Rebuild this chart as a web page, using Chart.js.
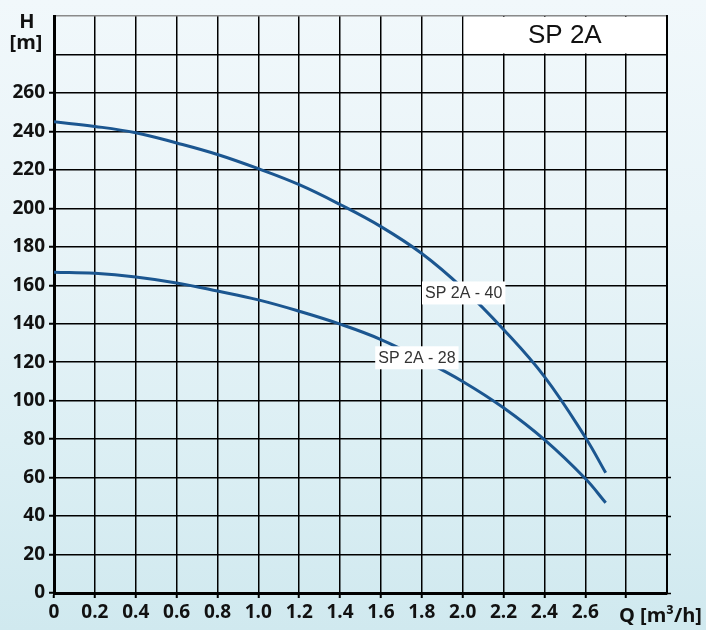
<!DOCTYPE html>
<html>
<head>
<meta charset="utf-8">
<script src="https://cdn.jsdelivr.net/npm/chart.js@4.4.1/dist/chart.umd.min.js"></script>
<style>
  html, body {
    margin: 0;
    padding: 0;
  }
  body {
    width: 706px;
    height: 630px;
    overflow: hidden;
    background: linear-gradient(180deg, #f1f8fb 0%, #e9f4f8 35%, #dceff4 70%, #d0e9ef 100%);
    font-family: 'Open Sans', sans-serif;
  }
  #wrap {
    position: relative;
    width: 706px;
    height: 630px;
  }
  .preload {
    position: absolute;
    left: -999px;
    font: bold 19px 'Open Sans';
  }
</style>
</head>
<body>
<span class="preload">0123456789 Q [m³/h] H</span>
<div id="wrap"><canvas id="pump"></canvas></div>
<script>
// flow Q [m3/h] and head H [m]
const flow = [0, 0.2, 0.4, 0.6, 0.8, 1.0, 1.2, 1.4, 1.6, 1.8, 2.0, 2.2, 2.4, 2.6, 2.7];
const head40 = [245, 242.6, 239.3, 234, 228, 220.6, 212.3, 202, 190.5, 176.5, 158.5, 137, 112.5, 81, 62.5];
const head28 = [166.8, 166.2, 164.3, 161.2, 157, 152.4, 146.5, 139.8, 131.8, 121.5, 110, 96.3, 79.7, 59.5, 46.9];

const seriesNames = ['SP 2A - 40', 'SP 2A - 28'];
const chartTitle = 'SP 2A';
const lastFlowLabel = 2.6;
const lastHeadLabel = 260;

const tickFont = { family: "'Open Sans', sans-serif", size: 19, weight: 'bold' };
const lineColor = '#1b5690';

function points(values) {
  return flow.map((q, i) => ({ x: q, y: values[i] }));
}

// white boxes with the series names and the title box, anchored in data units
const notes = {
  id: 'notes',
  afterDatasetsDraw(chart) {
    const { ctx, scales } = chart;
    const x = scales.x;
    const y = scales.y;

    ctx.save();
    // title box in the top right cell row
    const left = x.getPixelForValue(2.0) + 1;
    const right = x.getPixelForValue(3.0) - 1;
    const top = y.getPixelForValue(300) + 1;
    const bottom = y.getPixelForValue(280) - 1;
    ctx.fillStyle = '#ffffff';
    ctx.fillRect(left, top, right - left, bottom - top);
    ctx.fillStyle = '#111';
    ctx.font = '26px "Liberation Sans", Arial, sans-serif';
    ctx.textAlign = 'center';
    ctx.textBaseline = 'middle';
    ctx.fillText(chartTitle, (left + right) / 2, (top + bottom) / 2 + 1);

    // series name labels
    const spots = [
      { text: seriesNames[0], q: 2.005, h: 156 },
      { text: seriesNames[1], q: 1.776, h: 122.3 },
    ];
    ctx.font = '16px "Liberation Sans", Arial, sans-serif';
    spots.forEach((s) => {
      const cx = x.getPixelForValue(s.q);
      const cy = y.getPixelForValue(s.h);
      const w = ctx.measureText(s.text).width + 6;
      const h = 23;
      ctx.fillStyle = '#ffffff';
      ctx.fillRect(cx - w / 2, cy - h / 2, w, h);
      ctx.fillStyle = '#333';
      ctx.fillText(s.text, cx, cy + 1);
    });

    // axis names
    ctx.fillStyle = '#111';
    ctx.font = "bold 20px 'Open Sans', sans-serif";
    ctx.textAlign = 'center';
    ctx.textBaseline = 'alphabetic';
    ctx.fillText('H', 27, 28);
    ctx.fillText('[m]', 26, 49);
    ctx.textAlign = 'left';
    ctx.fillText('Q [m\u00b3/h]', 619, 622);
    ctx.restore();
  },
};

function build() {
  new Chart(document.getElementById('pump'), {
    type: 'line',
    data: {
      datasets: [
        {
          label: seriesNames[0],
          data: points(head40),
          borderColor: lineColor,
          borderWidth: 3,
          pointRadius: 0,
          tension: 0.4,
          fill: false,
        },
        {
          label: seriesNames[1],
          data: points(head28),
          borderColor: lineColor,
          borderWidth: 3,
          pointRadius: 0,
          tension: 0.4,
          fill: false,
        },
      ],
    },
    options: {
      responsive: true,
      maintainAspectRatio: false,
      animation: false,
      layout: {
        padding: { top: 16, left: 0, right: 0, bottom: 0 },
      },
      plugins: {
        legend: { display: false },
        tooltip: { enabled: false },
      },
      scales: {
        x: {
          type: 'linear',
          min: 0,
          max: 3.0,
          afterFit(scale) {
            scale.height = 37;
          },
          ticks: {
            stepSize: 0.2,
            color: '#111',
            font: tickFont,
            padding: 3,
            maxRotation: 0,
            autoSkip: false,
            callback: (v) => {
              if (v > lastFlowLabel + 0.05) return '';
              return v === 0 ? '0' : Number(v).toFixed(1);
            },
          },
          grid: {
            color: '#000',
            lineWidth: 1.5,
            tickLength: 5,
            tickColor: (c) => (c.tick && c.tick.value > 2.9 ? 'rgba(0,0,0,0)' : '#000'),
            tickWidth: 2,
          },
          border: { color: '#000', width: 3 },
        },
        y: {
          min: 0,
          max: 300,
          afterFit(scale) {
            scale.width = 54;
          },
          ticks: {
            stepSize: 20,
            color: '#111',
            font: tickFont,
            padding: 4,
            callback: (v) => (v > lastHeadLabel ? '' : v),
          },
          grid: {
            color: (c) => (c.tick && c.tick.value >= 300 ? '#8a8a8a' : '#000'),
            lineWidth: 1.5,
            tickLength: 5,
            tickColor: (c) => (c.tick && c.tick.value > lastHeadLabel ? 'rgba(0,0,0,0)' : '#000'),
            tickWidth: 2,
          },
          border: { color: '#000', width: 3 },
        },
        y2: {
          position: 'right',
          min: 0,
          max: 300,
          afterFit(scale) {
            scale.width = 39;
          },
          ticks: {
            stepSize: 20,
            display: false,
          },
          grid: {
            drawOnChartArea: false,
            tickLength: 4,
            tickWidth: 1.5,
            tickColor: (c) => (c.tick && c.tick.value > 60 ? 'rgba(0,0,0,0)' : '#000'),
          },
          border: { color: '#000', width: 2 },
        },
      },
    },
    plugins: [notes],
  });
}

document.fonts.load("bold 19px 'Open Sans'").then(build, build);
</script>
</body>
</html>
